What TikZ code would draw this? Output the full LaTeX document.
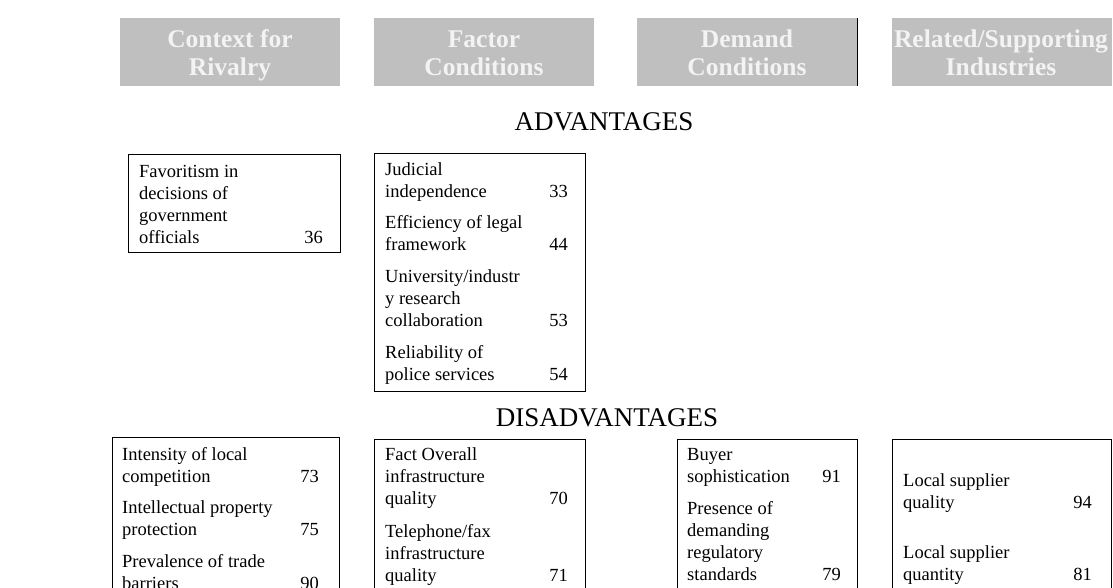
\documentclass[tikz,border=0pt]{standalone}
\usepackage{fontspec}
\setmainfont{Liberation Serif}
\definecolor{hdrgray}{RGB}{191,191,191}
\definecolor{hdrtext}{RGB}{243,243,243}
\begin{document}
\begin{tikzpicture}[x=1pt,y=-1pt,
  hdr/.style={fill=hdrgray, draw=none, anchor=north west, minimum width=220pt, minimum height=68pt, inner sep=0pt},
  hdrtxt/.style={anchor=base, inner sep=0pt, text=hdrtext, font=\fontsize{25.5}{30}\selectfont\bfseries},
  box/.style={draw=black, line width=1.3pt, anchor=north west, inner sep=0pt},
  ln/.style={anchor=base west, inner sep=0pt, font=\fontsize{18.5}{22}\selectfont},
  num/.style={anchor=base east, inner sep=0pt, font=\fontsize{18.5}{22}\selectfont},
  sect/.style={anchor=base, inner sep=0pt, font=\fontsize{27}{30}\selectfont}]
\useasboundingbox (0,0) rectangle (1113,587);
\clip (0,0) rectangle (1113,587);
% headers
\node[hdr] (h1) at (120,18) {};
\node[hdr] (h2) at (374,18) {};
\node[hdr] (h3) at (637,18) {};
\node[hdr] (h4) at (892,18) {};
\node[hdrtxt] (h1a) at (230,47) {Context for};
\node[hdrtxt] (h1b) at (230,75) {Rivalry};
\node[hdrtxt] (h2a) at (484,47) {Factor};
\node[hdrtxt] (h2b) at (484,75) {Conditions};
\node[hdrtxt] (h3a) at (747,47) {Demand};
\node[hdrtxt] (h3b) at (747,75) {Conditions};
\node[hdrtxt] (h4a) at (1001,47) {Related/Supporting};
\node[hdrtxt] (h4b) at (1001,75) {Industries};
\draw[black, line width=0.8pt] (h3.north east) -- (h3.south east);
% section titles
\node[sect] (adv) at (604,130) {ADVANTAGES};
\node[sect] (dis) at (607,426) {DISADVANTAGES};
% advantages boxes
\node[box, minimum width=212pt, minimum height=98pt] (a1) at (128,154) {};
\node[box, minimum width=211pt, minimum height=238pt] (a2) at (374,153) {};
\foreach \yy/\tt [count=\i] in {177/{Favoritism in}, 199/{decisions of}, 221/{government}, 243/{officials}}
  \node[ln, name=a1l\i] at (139,\yy) {\tt};
\node[num] (a1n1) at (323,243) {36};
\foreach \yy/\tt [count=\i] in {175/{Judicial}, 197/{independence}, 228/{Efficiency of legal}, 250/{framework}, 282/{University/industr}, 304/{y research}, 326/{collaboration}, 358/{Reliability of}, 380/{police services}}
  \node[ln, name=a2l\i] at (385,\yy) {\tt};
\node[num] (a2n1) at (568,197) {33};
\node[num] (a2n2) at (568,250) {44};
\node[num] (a2n3) at (568,326) {53};
\node[num] (a2n4) at (568,380) {54};
% disadvantages boxes
\node[box, minimum width=227pt, minimum height=200pt] (d1) at (112,437) {};
\node[box, minimum width=211pt, minimum height=200pt] (d2) at (374,439) {};
\node[box, minimum width=180pt, minimum height=200pt] (d3) at (677,439) {};
\node[box, minimum width=219pt, minimum height=200pt] (d4) at (892,439) {};
\foreach \yy/\tt [count=\i] in {460/{Intensity of local}, 482/{competition}, 513/{Intellectual property}, 535/{protection}, 567/{Prevalence of trade}, 589/{barriers}}
  \node[ln, name=d1l\i] at (122,\yy) {\tt};
\node[num] (d1n1) at (319,482) {73};
\node[num] (d1n2) at (319,535) {75};
\node[num] (d1n3) at (319,589) {90};
\foreach \yy/\tt [count=\i] in {460/{Fact Overall}, 482/{infrastructure}, 504/{quality}, 537/{Telephone/fax}, 559/{infrastructure}, 581/{quality}}
  \node[ln, name=d2l\i] at (385,\yy) {\tt};
\node[num] (d2n1) at (568,504) {70};
\node[num] (d2n2) at (568,581) {71};
\foreach \yy/\tt [count=\i] in {460/{Buyer}, 482/{sophistication}, 514/{Presence of}, 536/{demanding}, 558/{regulatory}, 580/{standards}}
  \node[ln, name=d3l\i] at (687,\yy) {\tt};
\node[num] (d3n1) at (841,482) {91};
\node[num] (d3n2) at (841,580) {79};
\foreach \yy/\tt [count=\i] in {486/{Local supplier}, 508/{quality}, 558/{Local supplier}, 580/{quantity}}
  \node[ln, name=d4l\i] at (903,\yy) {\tt};
\node[num] (d4n1) at (1092,508) {94};
\node[num] (d4n2) at (1092,580) {81};
\end{tikzpicture}
\end{document}
